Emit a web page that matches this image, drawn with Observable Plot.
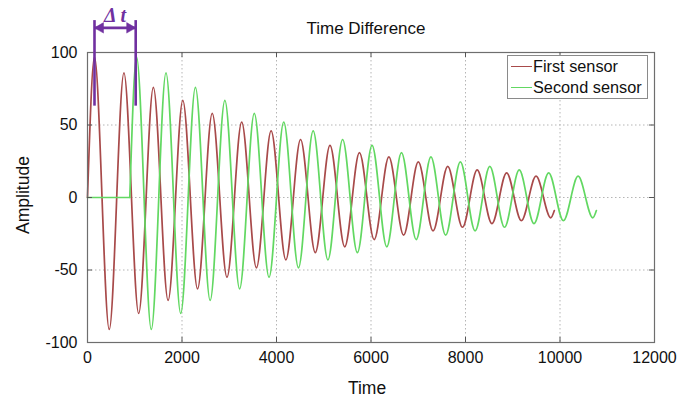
<!DOCTYPE html>
<html>
<head>
<meta charset="utf-8">
<script src="https://cdn.jsdelivr.net/npm/d3@7"></script>
<script src="https://cdn.jsdelivr.net/npm/@observablehq/plot@0.6"></script>
<style>
  html, body { margin: 0; padding: 0; background: #fff; }
  #wrap { position: relative; width: 692px; height: 405px; font-family: "Liberation Sans", Arial, sans-serif; color: #111; }
  #chart { position: absolute; left: 0; top: 0; }
  .lbl { position: absolute; white-space: nowrap; }
  #title { left: 266px; width: 200px; top: 20px; text-align: center; font-size: 17px; line-height: 17px; }
  #xlabel { left: 317px; width: 100px; top: 380px; text-align: center; font-size: 17.5px; line-height: 17px; }
  #ylabel { left: -37px; width: 120px; top: 185px; height: 20px; line-height: 20px; text-align: center; font-size: 17.5px; transform: rotate(-90deg); transform-origin: 60px 10px; }
  #legend { position: absolute; left: 507px; top: 55px; width: 139px; height: 42px; border: 1px solid #8a8a8a; background: #fff; font-size: 16.3px; }
  .row { position: absolute; left: 3px; height: 20px; line-height: 20px; display: flex; align-items: center; }
  .sw { width: 21px; height: 0; border-top: 1.5px solid; margin-right: 1px; }
</style>
</head>
<body>
<div id="wrap">
  <div id="chart"></div>
  <div class="lbl" id="title">Time Difference</div>
  <div class="lbl" id="xlabel">Time</div>
  <div class="lbl" id="ylabel">Amplitude</div>
  <div id="legend"></div>
</div>
<script>
// ---- data (extrema of each trace) ----
const seriesNames = ["First sensor", "Second sensor"];
const seriesColors = ["#a84a4a", "#62d862"];

const firstTime = [0, 148, 460, 771, 1083, 1394, 1706, 2017, 2329, 2640, 2952, 3263, 3575, 3886, 4198, 4509, 4821, 5132, 5444, 5755, 6067, 6378, 6690, 7001, 7313, 7624, 7936, 8247, 8559, 8870, 9182, 9493, 9805, 9880];
const firstAmp  = [0, 97, -91, 86, -80, 76, -71, 67, -63, 58, -55, 52, -48.5, 46, -43, 40, -38, 36, -34, 31, -29, 28, -26, 24.5, -23, 21.5, -20.5, 19, -18, 17, -16, 14.7, -14, -9];

const secondFlatTime = [0, 895];
const secondFlatAmp  = [0, 0];
const secondTime = [895, 1038, 1350, 1661, 1973, 2284, 2596, 2907, 3219, 3530, 3842, 4153, 4465, 4776, 5088, 5399, 5711, 6022, 6334, 6645, 6957, 7268, 7580, 7891, 8203, 8514, 8826, 9137, 9449, 9760, 10072, 10383, 10695, 10770];
const secondAmp  = [0, 97, -91, 86, -80, 76, -71, 67, -63, 58, -55, 52, -48.5, 46, -43, 40, -38, 36, -34, 31, -29, 28, -26, 24.5, -23, 21.5, -20.5, 19, -18, 17, -16, 14.7, -14, -9];

const xTicks = [0, 2000, 4000, 6000, 8000, 10000, 12000];
const yTicks = [-100, -50, 0, 50, 100];

// Δt annotation: times of the two first peaks it marks, and its vertical extent
const deltaT = [148, 1020];
const deltaSpan = [63, 122];
const deltaArrowY = [117];
const deltaLabel = ["Δ t"];

// ---- build tables ----
const firstRows = firstTime.map((t, i) => ({t, v: firstAmp[i]}));
const secondRows = [
  ...secondFlatTime.map((t, i) => ({t, v: secondFlatAmp[i], seg: "flat"})),
  ...secondTime.map((t, i) => ({t, v: secondAmp[i], seg: "wave"}))
];
const purple = "#7030a0";
const innerX = xTicks.filter(d => d > 0 && d < 12000);
const innerY = yTicks.filter(d => d > -100 && d < 100);
const plain = d => String(d);

const chart = Plot.plot({
  width: 692, height: 405,
  marginLeft: 87, marginRight: 38, marginTop: 52, marginBottom: 63,
  style: {fontFamily: "'Liberation Sans', Arial, sans-serif", fontSize: "16px", color: "#111", background: "transparent", overflow: "visible"},
  x: {domain: [0, 12000]},
  y: {domain: [-100, 100]},
  marks: [
    Plot.ruleX(innerX, {x: d => d, stroke: "#b5b5b5", strokeDasharray: "1.5,2.5", strokeWidth: 1}),
    Plot.ruleY(innerY, {y: d => d, stroke: "#b5b5b5", strokeDasharray: "1.5,2.5", strokeWidth: 1}),
    Plot.line(firstRows, {x: "t", y: "v", stroke: seriesColors[0], strokeWidth: 1.7, curve: "monotone-x"}),
    Plot.line(secondRows, {x: "t", y: "v", z: "seg", stroke: seriesColors[1], strokeWidth: 1.7, curve: "monotone-x"}),
    Plot.frame({stroke: "#6e6e6e", strokeWidth: 1.2}),
    // inward ticks on all four sides
    Plot.ruleX(innerX, {x: d => d, y1: -100, y2: -96.5, stroke: "#555"}),
    Plot.ruleX(innerX, {x: d => d, y1: 100, y2: 96.5, stroke: "#555"}),
    Plot.ruleY(innerY, {y: d => d, x1: 0, x2: 105, stroke: "#555"}),
    Plot.ruleY(innerY, {y: d => d, x1: 12000, x2: 11895, stroke: "#555"}),
    Plot.axisX(xTicks, {tickSize: 0, tickPadding: 9, label: null, fontSize: 16, tickFormat: plain}),
    Plot.axisY(yTicks, {tickSize: 0, tickPadding: 10, label: null, fontSize: 16, tickFormat: plain}),
    // Δt annotation
    Plot.ruleX(deltaT, {x: d => d, y1: deltaSpan[0], y2: deltaSpan[1], stroke: purple, strokeWidth: 2.6}),
    Plot.link(deltaArrowY, {x1: deltaT[0], x2: deltaT[1], y1: d => d, y2: d => d, stroke: purple, strokeWidth: 2.8}),
    Plot.dot(deltaArrowY, {x: deltaT[0], y: d => d, symbol: "triangle", r: 3.9, rotate: -90, dx: 6, fill: purple, stroke: purple, strokeWidth: 0.5}),
    Plot.dot(deltaArrowY, {x: deltaT[1], y: d => d, symbol: "triangle", r: 3.9, rotate: 90, dx: -6, fill: purple, stroke: purple, strokeWidth: 0.5}),
    Plot.text(deltaLabel, {x: (deltaT[0] + deltaT[1]) / 2, y: deltaSpan[1], text: d => d, dy: -5, fill: purple, fontSize: 20, fontStyle: "italic", fontWeight: "bold", fontFamily: "'Liberation Serif', 'DejaVu Serif', serif"})
  ]
});
document.getElementById("chart").appendChild(chart);

const legend = document.getElementById("legend");
seriesNames.forEach((name, i) => {
  const row = document.createElement("div");
  row.className = "row";
  row.style.top = (i === 0 ? 0 : 21) + "px";
  const sw = document.createElement("span");
  sw.className = "sw";
  sw.style.borderColor = seriesColors[i];
  const tx = document.createElement("span");
  tx.textContent = name;
  row.appendChild(sw); row.appendChild(tx);
  legend.appendChild(row);
});
</script>
</body>
</html>
